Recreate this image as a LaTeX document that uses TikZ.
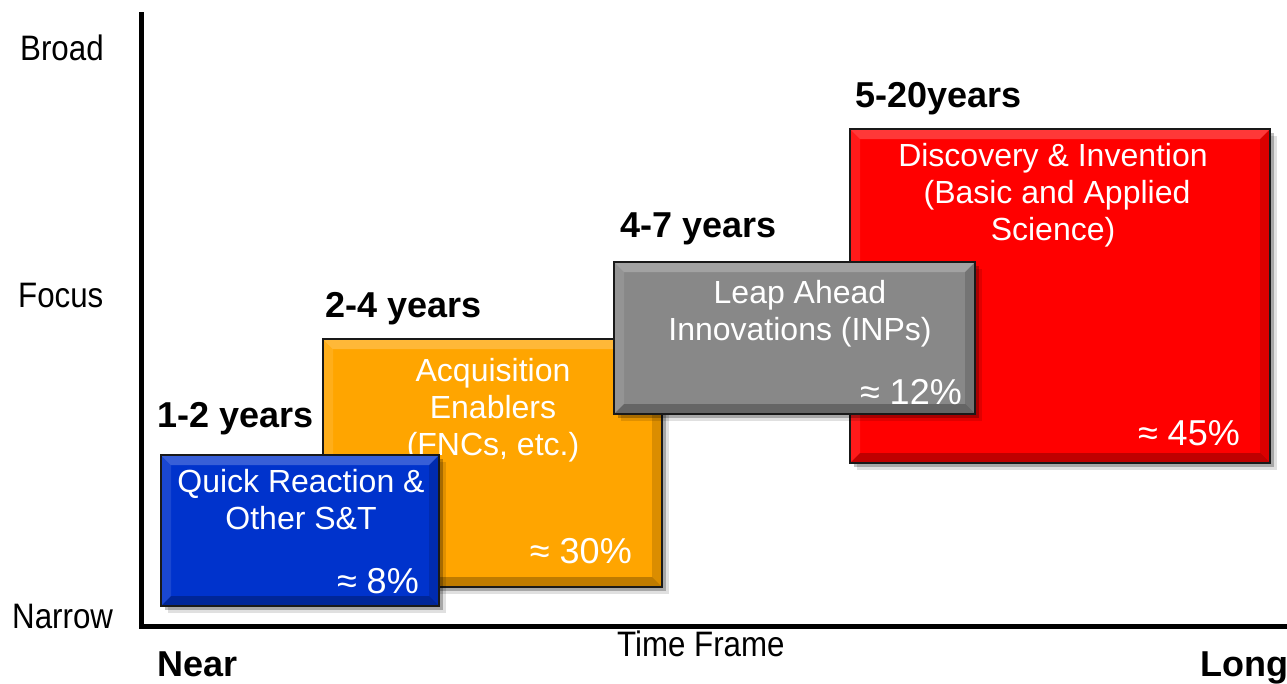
\documentclass[tikz,border=0pt]{standalone}
\usepackage{fontspec}
\setmainfont{Liberation Sans}
\usetikzlibrary{shadows}
\definecolor{qblue}{RGB}{0,51,204}
\definecolor{qorange}{RGB}{255,165,0}
\definecolor{qgray}{RGB}{136,136,136}
\definecolor{qred}{RGB}{255,0,0}
\tikzset{
  bevelbox/.style={draw=black!90, line width=2pt, inner sep=0pt,
    drop shadow={shadow xshift=7pt, shadow yshift=-7pt, opacity=.12, fill=black},
    drop shadow={shadow xshift=4pt, shadow yshift=-4pt, opacity=.25, fill=black},
    path picture={
      \fill[white,opacity=.22] (path picture bounding box.north west) -- (path picture bounding box.north east)
        -- ([shift={(-10pt,-10pt)}]path picture bounding box.north east) -- ([shift={(10pt,-10pt)}]path picture bounding box.north west) -- cycle;
      \fill[white,opacity=.10] (path picture bounding box.north west) -- ([shift={(10pt,-10pt)}]path picture bounding box.north west)
        -- ([shift={(10pt,10pt)}]path picture bounding box.south west) -- (path picture bounding box.south west) -- cycle;
      \fill[black,opacity=.25] (path picture bounding box.south west) -- ([shift={(10pt,10pt)}]path picture bounding box.south west)
        -- ([shift={(-10pt,10pt)}]path picture bounding box.south east) -- (path picture bounding box.south east) -- cycle;
      \fill[black,opacity=.14] (path picture bounding box.south east) -- ([shift={(-10pt,10pt)}]path picture bounding box.south east)
        -- ([shift={(-10pt,-10pt)}]path picture bounding box.north east) -- (path picture bounding box.north east) -- cycle;
    }},
  boxtext/.style={text=white, inner sep=0pt, anchor=base, font=\fontsize{32}{37}\selectfont},
  pcttext/.style={text=white, inner sep=0pt, anchor=base east, font=\fontsize{36}{40}\selectfont},
  yearlab/.style={inner sep=0pt, anchor=base west, font=\fontsize{36}{40}\selectfont\bfseries},
  axlab/.style={inner sep=0pt, anchor=base west, font=\fontsize{34}{40}\selectfont},
  axisline/.style={line width=5pt, line join=miter}
}
\begin{document}
\begin{tikzpicture}[x=1pt,y=-1pt]
\useasboundingbox[fill=white] (0,0) rectangle (1287,683);

% axes
\coordinate (vtop) at (141.5,12);
\coordinate (corner) at (141.5,626);
\coordinate (hend) at (1300,626);
\draw[axisline] (vtop) -- (corner) -- (hend);

% axis labels
\node[axlab] (broad) at (20,60) {\scalebox{0.92}[1.04]{Broad}};
\node[axlab] (focus) at (18,307) {\scalebox{0.92}[1.04]{Focus}};
\node[axlab] (narrow) at (12,628) {\scalebox{0.92}[1.04]{Narrow}};
\node[axlab] (timeframe) at (617,656) {\scalebox{0.92}[1.04]{Time Frame}};
\node[yearlab] (near) at (157,676) {Near};
\node[yearlab] (long) at (1200,676) {Long};

% red box
\node[bevelbox, fill=qred, minimum width=420pt, minimum height=334pt] (red) at (1060,296) {};
\node[boxtext] (r1) at (1053,166) {Discovery \& Invention};
\node[boxtext] (r2) at (1057,203) {(Basic and Applied};
\node[boxtext] (r3) at (1053,240) {Science)};
\node[pcttext] (rp) at (1240,445) {≈ 45\%};

% orange box
\node[bevelbox, fill=qorange, minimum width=339pt, minimum height=248pt] (orange) at (492.5,463) {};
\node[boxtext] (o1) at (493,381) {Acquisition};
\node[boxtext] (o2) at (493,418) {Enablers};
\node[boxtext] (o3) at (493,455) {(FNCs, etc.)};
\node[pcttext] (op) at (632,563) {≈ 30\%};

% gray box
\node[bevelbox, fill=qgray, minimum width=361pt, minimum height=152pt] (gray) at (794.5,338) {};
\node[boxtext] (g1) at (800,303) {Leap Ahead};
\node[boxtext] (g2) at (800,340) {Innovations (INPs)};
\node[pcttext] (gp) at (962,404) {≈ 12\%};

% blue box
\node[bevelbox, fill=qblue, minimum width=278pt, minimum height=151pt] (blue) at (300,530.5) {};
\node[boxtext] (b1) at (301,492) {Quick Reaction \&};
\node[boxtext] (b2) at (301,529) {Other S\&T};
\node[pcttext] (bp) at (419,593) {≈ 8\%};

% year labels
\node[yearlab] (y1) at (157,427) {1-2 years};
\node[yearlab] (y2) at (325,317) {2-4 years};
\node[yearlab] (y3) at (620,237) {4-7 years};
\node[yearlab] (y4) at (855,107) {5-20years};
\end{tikzpicture}
\end{document}
